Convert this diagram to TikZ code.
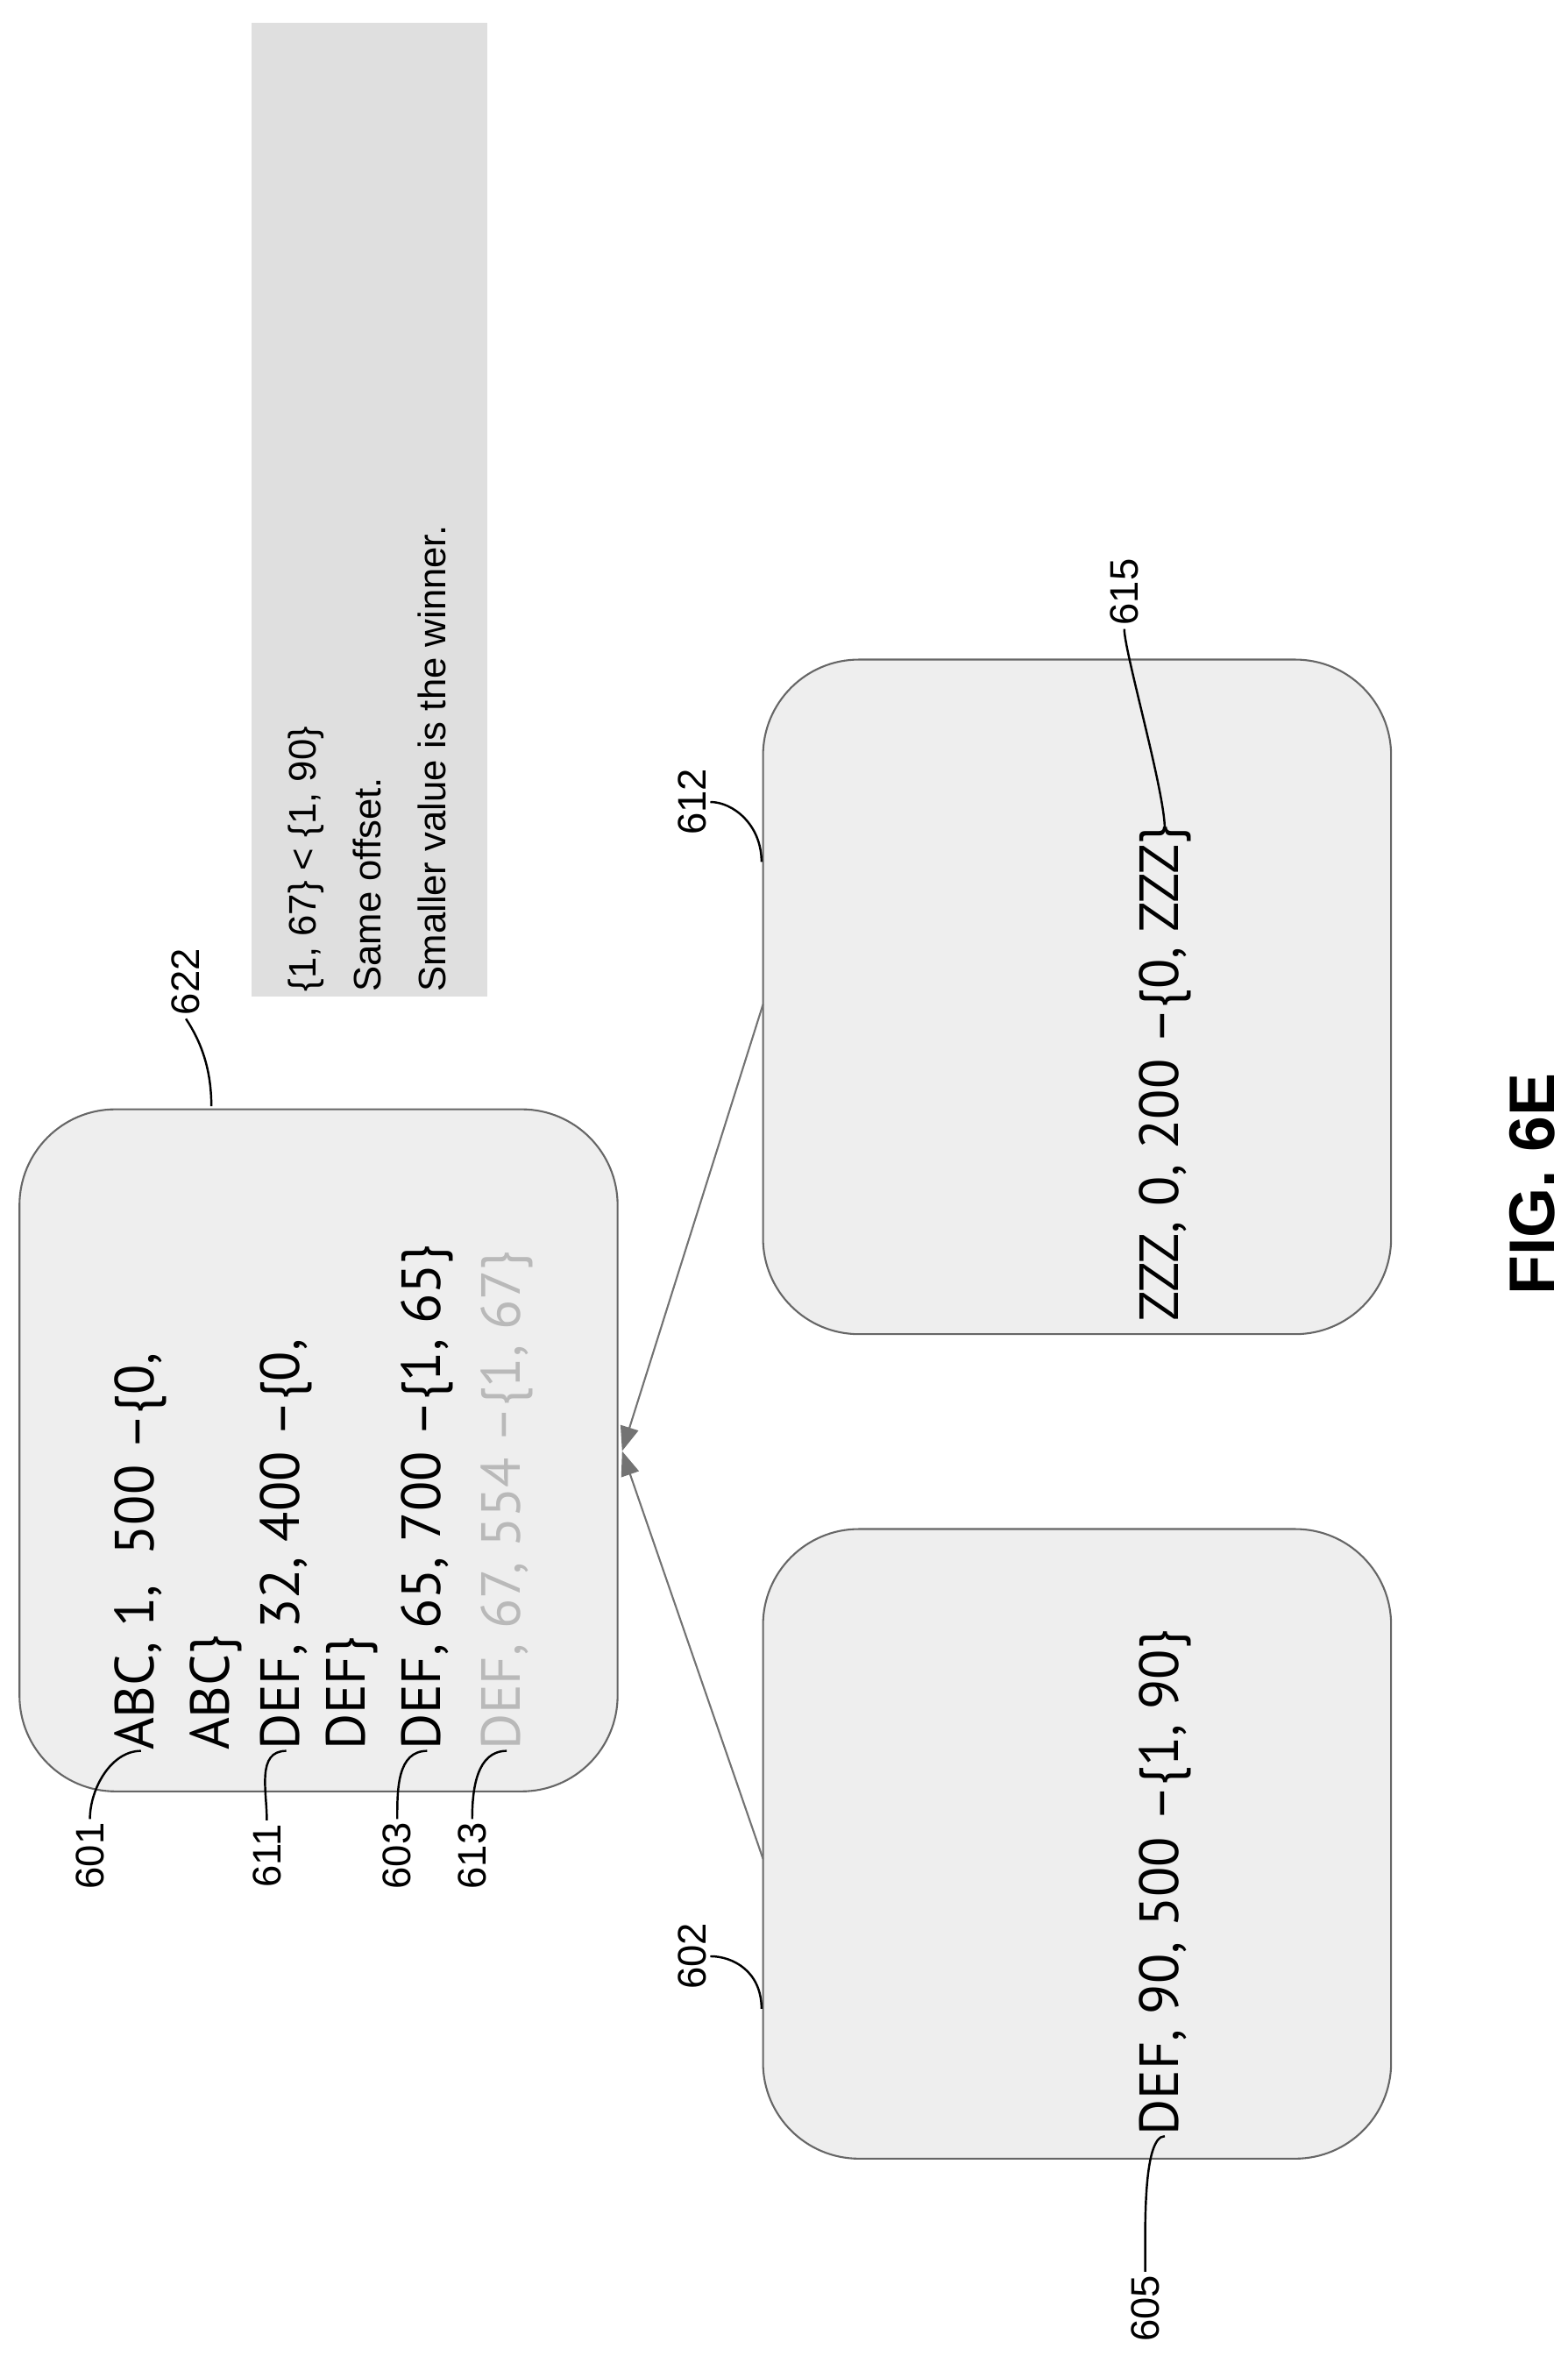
\documentclass[tikz,border=0pt]{standalone}
\usepackage{fontspec}
\setmainfont{PT Sans}
\newfontfamily\labelfont{Liberation Sans}
\usetikzlibrary{arrows.meta}
\usetikzlibrary{positioning}

\tikzset{
  card/.style={draw=black!60, fill=gray!13, rounded corners=1.1cm, line width=0.6pt},
  entry/.style={rotate=90, anchor=west, font=\fontsize{18}{21}\selectfont, inner sep=0pt},
  remark/.style={rotate=90, anchor=west, font=\labelfont\fontsize{12.5}{15}\selectfont, inner sep=0pt},
  refno/.style={rotate=90, font=\labelfont\fontsize{13}{15}\selectfont, inner sep=1pt},
  leader/.style={line width=0.7pt},
  link/.style={draw=black!55, line width=0.6pt, -{Triangle[length=8pt,width=6pt]}}
}

\begin{document}
\begin{tikzpicture}[x=0.0172cm, y=-0.0172cm]
  \useasboundingbox (0,0) rectangle (1046,1581);

  % note
  \fill[gray!25] (168,15) rectangle (325,665);
  \node[remark] (n1) at (204,662) {\{1, 67\} < \{1, 90\}};
  \node[remark] (n2) at (245,662) {Same offset.};
  \node[remark] (n3) at (288,662) {Smaller value is the winner.};

  % boxes
  \draw[card] (13,740) rectangle (412,1195);
  \draw[card] (509,1020) rectangle (928,1440);
  \draw[card] (509,440) rectangle (928,890);
  \coordinate (root) at (415,968);
  \coordinate (left) at (509,1240);
  \coordinate (right) at (509,670);
  \draw[link] (left) -- (root);
  \draw[link] (right) -- (root);

  % entries of 622
  \node[entry] (e601) at (94,1168) {ABC, 1,\ \ 500 --\{0,};
  \node[entry] (e601b) at (144,1168) {ABC\}};
  \node[entry] (e611) at (191,1168) {DEF, 32, 400 --\{0,};
  \node[entry] (e611b) at (235,1168) {DEF\}};
  \node[entry] (e603) at (285,1168) {DEF, 65, 700 --\{1, 65\}};
  \node[entry, text=gray!55] (e613) at (338,1168) {DEF, 67, 554 --\{1, 67\}};
  \node[entry] (e605) at (777,1425) {DEF, 90, 500 --\{1, 90\}};
  \node[entry] (e615) at (777,882) {ZZZ, 0, 200 --\{0, ZZZ\}};

  % reference numerals
  \node[refno] (l601) at (60,1238) {601};
  \node[refno] (l611) at (178,1238) {611};
  \node[refno] (l603) at (265,1238) {603};
  \node[refno] (l613) at (315,1238) {613};
  \node[refno] (l622) at (124,655) {622};
  \node[refno] (l602) at (462,1305) {602};
  \node[refno] (l612) at (462,535) {612};
  \node[refno] (l605) at (764,1540) {605};
  \node[refno] (l615) at (750,395) {615};
  \coordinate (c622) at (141,738);
  \coordinate (c602) at (508,1340);
  \coordinate (c612) at (508,575);
  \draw[leader] (l601.east) .. controls +(0,-20) and +(-20,0) .. (e601.west);
  \draw[leader] (l611.east) .. controls +(0,-20) and +(-20,0) .. (e611.west);
  \draw[leader] (l603.east) .. controls +(0,-20) and +(-20,0) .. (e603.west);
  \draw[leader] (l613.east) .. controls +(0,-20) and +(-20,0) .. (e613.west);
  \draw[leader] (l605.east) .. controls +(0,-25) and +(-15,0) .. (e605.west);
  \draw[leader] (l615.west) .. controls +(0,15) and +(0,-25) .. ([yshift=-0.05cm]e615.east);
  \draw[leader] (l622.west) .. controls +(10,15) and +(0,-25) .. (c622);
  \draw[leader] (l602.south) .. controls +(15,0) and +(0,-25) .. (c602);
  \draw[leader] (l612.south) .. controls +(15,0) and +(0,-25) .. (c612);

  \node[rotate=90, font=\labelfont\bfseries\fontsize{21}{24}\selectfont] (fig) at (1022,790) {FIG. 6E};
\end{tikzpicture}
\end{document}
